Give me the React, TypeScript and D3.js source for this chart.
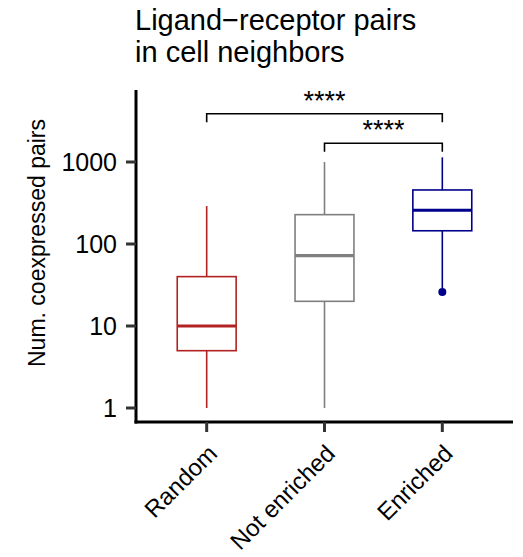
import React from "react";
import * as d3 from "d3";

// groups and their box stats
const groups = ["Random", "Not enriched", "Enriched"];
const colors = ["#B22222", "#7F7F7F", "#00008B"];
const whiskerLow = [1, 1, 29];
const q1 = [5, 20, 145];
const median = [10, 72, 258];
const q3 = [40, 228, 456];
const whiskerHigh = [290, 1000, 1140];
const outliers = [[], [], [26]];

const yTicks = [1, 10, 100, 1000];

// significance brackets: [from group, to group, label]
const brackets = [
  { from: 0, to: 2, label: "****" },
  { from: 1, to: 2, label: "****" },
];

const W = 523;
const H = 557;
const FONT = "'Liberation Sans', Arial, Helvetica, sans-serif";

export default function App() {
  const left = 136;
  const right = 513;
  const axisBottom = 422;
  const axisTop = 90;

  const x = d3.scalePoint<string>().domain(groups).range([left, right]).padding(0.6);
  const y = d3.scaleLog().domain([1, 1000]).range([408, 162]);
  const boxHalf = x.step() * 0.25;

  return (
    <svg width={W} height={H} style={{ position: "absolute", left: 0, top: 0 }} fontFamily={FONT}>
      <rect width={W} height={H} fill="#fff" />

      <text x={135} y={30} fontSize={29} fill="#000">Ligand−receptor pairs</text>
      <text x={135} y={62} fontSize={29} fill="#000">in cell neighbors</text>

      {/* boxes */}
      {groups.map((g, i) => {
        const cx = x(g)!;
        const c = colors[i];
        return (
          <g key={g}>
            <line x1={cx} x2={cx} y1={y(whiskerHigh[i])} y2={y(q3[i])} stroke={c} strokeWidth={1.6} />
            <line x1={cx} x2={cx} y1={y(q1[i])} y2={y(whiskerLow[i])} stroke={c} strokeWidth={1.6} />
            <rect x={cx - boxHalf} y={y(q3[i])} width={boxHalf * 2} height={y(q1[i]) - y(q3[i])}
              fill="#fff" stroke={c} strokeWidth={1.6} />
            <line x1={cx - boxHalf} x2={cx + boxHalf} y1={y(median[i])} y2={y(median[i])} stroke={c} strokeWidth={3.2} />
            {outliers[i].map((v, j) => (
              <circle key={j} cx={cx} cy={y(v)} r={4} fill={c} />
            ))}
          </g>
        );
      })}

      {/* significance brackets */}
      {brackets.map((b, i) => {
        const yb = i === 0 ? 113.7 : 143.3;
        const x1 = x(groups[b.from])!;
        const x2 = x(groups[b.to])!;
        return (
          <g key={i}>
            <path d={`M${x1},${yb + 8.5}V${yb}H${x2}V${yb + 8.5}`} fill="none" stroke="#000" strokeWidth={1.6} />
            <text x={(x1 + x2) / 2} y={yb - 4} textAnchor="middle" fontSize={27}>{b.label}</text>
          </g>
        );
      })}

      {/* y axis */}
      <line x1={left} x2={left} y1={axisTop} y2={axisBottom + 1.5} stroke="#000" strokeWidth={3} />
      {yTicks.map((t) => (
        <g key={t}>
          <line x1={left - 10} x2={left} y1={y(t)} y2={y(t)} stroke="#333" strokeWidth={3} />
          <text x={left - 19} y={y(t)} dy="0.36em" textAnchor="end" fontSize={25} fill="#000">
            {d3.format("d")(t)}
          </text>
        </g>
      ))}
      <text transform={`translate(45,243) rotate(-90)`} textAnchor="middle" fontSize={23}>
        Num. coexpressed pairs
      </text>

      {/* x axis */}
      <line x1={left - 1.5} x2={right} y1={axisBottom} y2={axisBottom} stroke="#000" strokeWidth={3} />
      {groups.map((g) => (
        <g key={g}>
          <line x1={x(g)} x2={x(g)} y1={axisBottom} y2={axisBottom + 10} stroke="#333" strokeWidth={3} />
          <text transform={`translate(${x(g)! + 12},${axisBottom + 33}) rotate(-45)`} textAnchor="end" fontSize={24}>
            {g}
          </text>
        </g>
      ))}
    </svg>
  );
}
